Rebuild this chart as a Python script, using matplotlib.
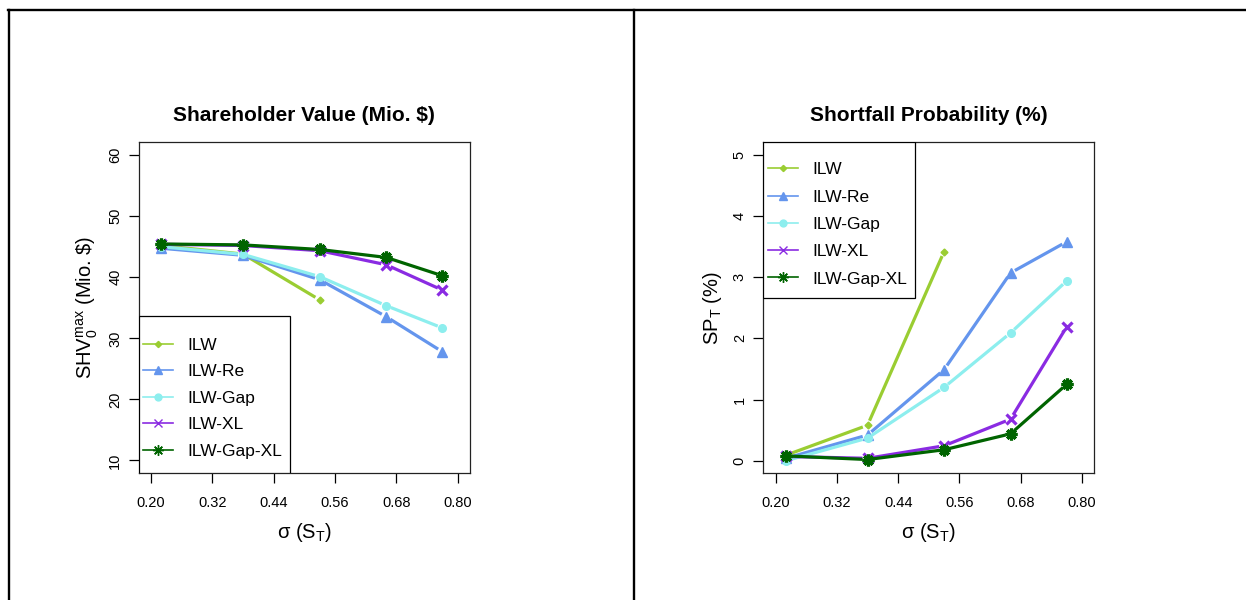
import numpy as np
import matplotlib
matplotlib.use("Agg")
import matplotlib.pyplot as plt
from matplotlib.lines import Line2D
from matplotlib.patches import Rectangle

plt.rcParams['font.family'] = ['Liberation Sans', 'DejaVu Sans']
plt.rcParams['mathtext.fontset'] = 'custom'
plt.rcParams['mathtext.rm'] = 'Liberation Sans'
plt.rcParams['mathtext.it'] = 'Liberation Sans:italic'

sigma = [0.22, 0.38, 0.53, 0.66, 0.77]
series = ["ILW", "ILW-Re", "ILW-Gap", "ILW-XL", "ILW-Gap-XL"]

shv_ilw = [45.2, 43.8, 36.3, np.nan, np.nan]
shv_re = [44.75, 43.6, 39.6, 33.55, 27.8]
shv_gap = [45.0, 43.75, 40.1, 35.35, 31.7]
shv_xl = [45.4, 45.2, 44.35, 42.05, 37.9]
shv_gapxl = [45.45, 45.3, 44.55, 43.25, 40.25]

sp_ilw = [0.09, 0.58, 3.42, np.nan, np.nan]
sp_re = [0.04, 0.42, 1.49, 3.07, 3.58]
sp_gap = [0.0, 0.37, 1.2, 2.09, 2.94]
sp_xl = [0.07, 0.04, 0.245, 0.68, 2.19]
sp_gapxl = [0.08, 0.02, 0.18, 0.44, 1.25]

xticks = [0.20, 0.32, 0.44, 0.56, 0.68, 0.80]

colors = ["#9ACD32", "#6495ED", "#8DEEEE", "#8A2BE2", "#006400"]
markers = ["D", "^", "o", "x", (8, 2, 0)]
msizes = [3.5, 6.5, 5.5, 6.5, 8.5]

W, H = 1246, 600
fig = plt.figure(figsize=(W / 100, H / 100), dpi=100)

# outer frame like the document table
def fline(x0, y0, x1, y1):
    fig.add_artist(Line2D([x0 / W, x1 / W], [1 - y0 / H, 1 - y1 / H],
                          transform=fig.transFigure, color="black", lw=1.7))
fline(8, 10, 1246, 10)
fline(8.5, 10, 8.5, 600)
fline(634, 10, 634, 600)
fig.text(80 / W, 1 + 4 / H, "g", fontsize=14, ha="center", va="baseline")

ax1 = fig.add_axes([138.7 / W, 1 - 473.3 / H, 331.3 / W, 331 / H])
ax2 = fig.add_axes([763.3 / W, 1 - 473.3 / H, 331 / W, 331 / H])


def draw_b(ax, x, y, color, marker, ms, gap=5.0):
    # R type="b": line segments with a gap around each point
    pts = ax.transData.transform(np.column_stack([x, y]))
    for i in range(len(x) - 1):
        p0, p1 = pts[i], pts[i + 1]
        if np.isnan(p0).any() or np.isnan(p1).any():
            continue
        d = p1 - p0
        L = np.hypot(*d)
        if L <= 2 * gap:
            continue
        u = d / L
        seg = ax.transData.inverted().transform([p0 + u * gap, p1 - u * gap])
        ax.plot(seg[:, 0], seg[:, 1], color=color, lw=2.3, solid_capstyle="butt")
    ax.plot(x, y, ls="none", marker=marker, ms=ms, color=color,
            mew=2.3 if marker in ("x", (8, 2, 0)) else 1)


def style(ax, ylim, yticks, title, ylabel):
    ax.set_xlim(0.176, 0.824)
    ax.set_ylim(*ylim)
    ax.set_xticks(xticks)
    ax.set_xticklabels(["%.2f" % v for v in xticks])
    ax.set_yticks(yticks)
    ax.set_yticklabels([str(v) for v in yticks], rotation=90, va="center")
    ax.tick_params(direction="out", length=7.4, width=0.9, labelsize=10.5)
    ax.tick_params(axis="x", pad=9)
    ax.tick_params(axis="y", pad=4.5)
    for s in ax.spines.values():
        s.set_linewidth(0.9)
        s.set_color("#222222")
    ax.set_title(title, fontsize=15, fontweight="bold", pad=15)
    ax.set_xlabel(r"σ (S$_\mathregular{T}$)", fontsize=14.5, labelpad=8)
    ax.set_ylabel(ylabel, fontsize=14.5, labelpad=6)


style(ax1, (7.9, 62.1), [10, 20, 30, 40, 50, 60], "Shareholder Value (Mio. $)",
      r"SHV$_\mathregular{0}^\mathregular{max}$ (Mio. \$)")
style(ax2, (-0.205, 5.205), [0, 1, 2, 3, 4, 5], "Shortfall Probability (%)",
      r"SP$_\mathregular{T}$ (%)")

shv = [shv_ilw, shv_re, shv_gap, shv_xl, shv_gapxl]
sp = [sp_ilw, sp_re, sp_gap, sp_xl, sp_gapxl]
for i in range(len(series)):
    draw_b(ax1, sigma, shv[i], colors[i], markers[i], msizes[i])
    draw_b(ax2, sigma, sp[i], colors[i], markers[i], msizes[i])

handles = [Line2D([], [], color=colors[i], lw=1.2, marker=markers[i],
                  ms=msizes[i] * 0.9, mew=1) for i in range(len(series))]

# legend boxes (frame drawn separately, R style: tight left, roomy top/bottom)
ax1.add_patch(Rectangle((0, 0), 151.6 / 331.3, 157.3 / 331, transform=ax1.transAxes,
                        facecolor="white", edgecolor="black", lw=0.9, zorder=4))
ax2.add_patch(Rectangle((0, 1 - 156 / 331), 152 / 331, 156 / 331, transform=ax2.transAxes,
                        facecolor="white", edgecolor="black", lw=0.9, zorder=4))
for ax, loc, anchor, sp_ in [(ax1, "lower left", (0, 0.030), 0.66),
                             (ax2, "upper left", (0, 0.953), 0.7)]:
    leg = ax.legend(handles, series, loc=loc, bbox_to_anchor=anchor, fontsize=12.5,
                    frameon=False, borderaxespad=0, borderpad=0.25, labelspacing=sp_,
                    handlelength=1.75, handletextpad=0.8, numpoints=1)
    leg.set_zorder(5)

fig.savefig("out.png", dpi=100)
